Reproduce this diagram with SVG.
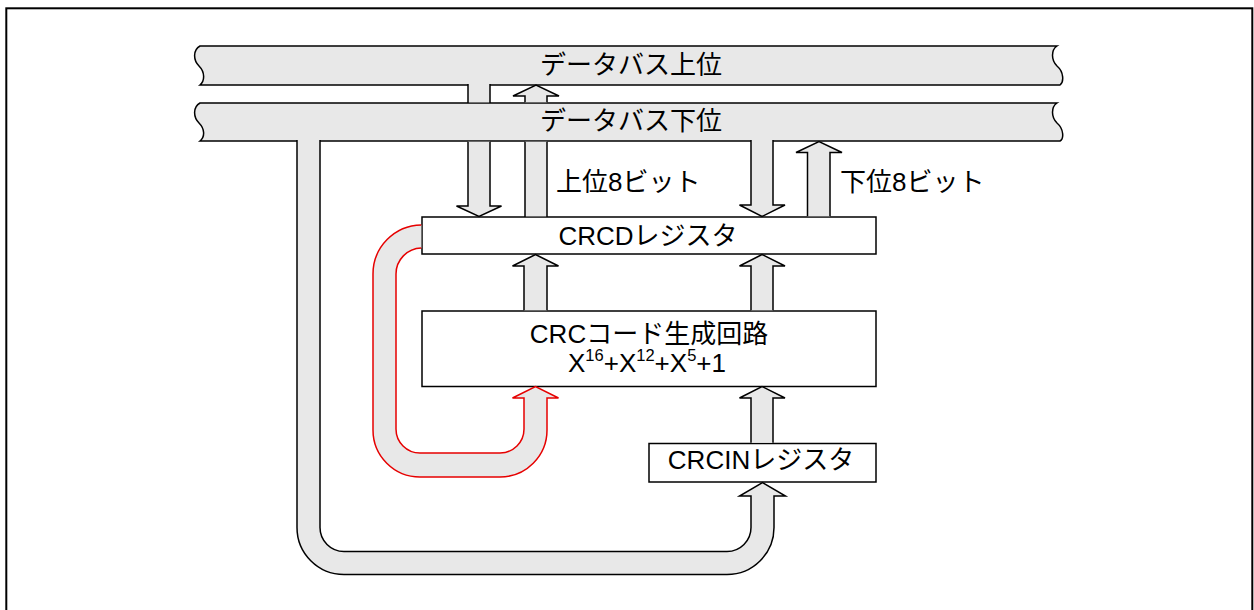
<svg xmlns="http://www.w3.org/2000/svg" width="1254" height="610" viewBox="0 0 1254 610">
<style>
.frame{fill:none;stroke:#000;stroke-width:2}
.bus{fill:#e8e8e8;stroke:#000;stroke-width:1.5}
.box{fill:#fff;stroke:#000;stroke-width:1.5}
.arr{fill:#e8e8e8;stroke:#000;stroke-width:1.5;stroke-linejoin:miter}
.red{fill:#e8e8e8;stroke:#e60000;stroke-width:1.5}
.fill{fill:#e8e8e8;stroke:none}
.line{fill:none;stroke:#000;stroke-width:1.5}
text{font-family:"Liberation Sans","Noto Sans CJK JP",sans-serif;font-size:26px;fill:#000}
.mid{text-anchor:middle}
.sup{font-size:16.5px}
</style>
<rect class="frame" x="6.3" y="8.3" width="1246" height="650"/>
<g id="bus-upper">
<path class="bus" d="M200,46 L1057,46 C1051,50 1051,60 1057,66 C1064,72 1064,82 1060,85 L200,85 C205,81 205,72 199,66 C193,60 193,50 200,46 Z"/>
<text class="mid" x="631" y="73.5">データバス上位</text>
</g>
<g id="bus-lower">
<path class="bus" d="M200,103 L1057,103 C1051,107 1051,117 1057,123 C1064,129 1064,139 1060,141 L200,141 C205,137 205,129 199,123 C193,117 193,107 200,103 Z"/>
<text class="mid" x="631" y="129.5">データバス下位</text>
</g>
<g id="crcd">
<rect class="box" x="422" y="217" width="454" height="37"/>
<text class="mid" x="648" y="245">CRCDレジスタ</text>
</g>
<g id="crcgen">
<rect class="box" x="422" y="311" width="454" height="75.5"/>
<text class="mid" x="649" y="342.5">CRCコード生成回路</text>
<text class="mid" x="647" y="371.5">X<tspan class="sup" dy="-10.5">16</tspan><tspan dy="10.5">+X</tspan><tspan class="sup" dy="-10.5">12</tspan><tspan dy="10.5">+X</tspan><tspan class="sup" dy="-10.5">5</tspan><tspan dy="10.5">+1</tspan></text>
</g>
<g id="crcin">
<rect class="box" x="649" y="443.5" width="227" height="38.5"/>
<text class="mid" x="761" y="468.5">CRCINレジスタ</text>
</g>
<g id="label-hi">
<text x="556" y="190.5">上位8ビット</text>
</g>
<g id="label-lo">
<text x="840" y="190.5">下位8ビット</text>
</g>
<g id="connectors">
<path class="fill" d="M468,84 H490 V102.3 H468 Z"/>
<path class="line" d="M468,84 V103 M490,84 V103"/>
<path class="arr" d="M468,141.8 V206 H456.5 L479,216.5 L501.5,206 H490 V141.8"/>
<path class="arr" d="M525,102.3 V96 H513 L536,85 L559,96 H547 V102.3"/>
<path class="fill" d="M525,141.8 H547 V216.2 H525 Z"/>
<path class="line" d="M525,141.8 V217 M547,141.8 V217"/>
<path class="arr" d="M751,140 V205 H739.5 L762,216.5 L785,205 H773 V140"/>
<path class="arr" d="M807.5,216.2 V152.5 H796 L819,141.5 L842,152.5 H830 V216.2"/>
<path class="arr" d="M297,140 V527.5 A47,47 0 0 0 344,574.5 H727 A47,47 0 0 0 774,527.5 V496 H785.5 L762.5,482.5 L739.5,496 H751 V527.5 A24,24 0 0 1 727,551.5 H344 A24,24 0 0 1 320,527.5 V140"/>
<path class="red" d="M421.3,225 A49,49 0 0 0 373,274 V430 A47,47 0 0 0 420,477 H500 A47,47 0 0 0 547,430 V398 H558.5 L535.5,386.5 L512.5,398 H524 V429 A24,24 0 0 1 500,453 H420 A24,24 0 0 1 396,429 V274 A26,26 0 0 1 421.3,248"/>
<path class="arr" d="M524,310.2 V266 H512.5 L535.5,254.5 L558.5,266 H547 V310.2"/>
<path class="arr" d="M751,310.2 V266 H739.5 L762,254.5 L785,266 H773 V310.2"/>
<path class="arr" d="M751,442.7 V398 H739.5 L762,386.5 L785,398 H773 V442.7"/>
</g>
</svg>
